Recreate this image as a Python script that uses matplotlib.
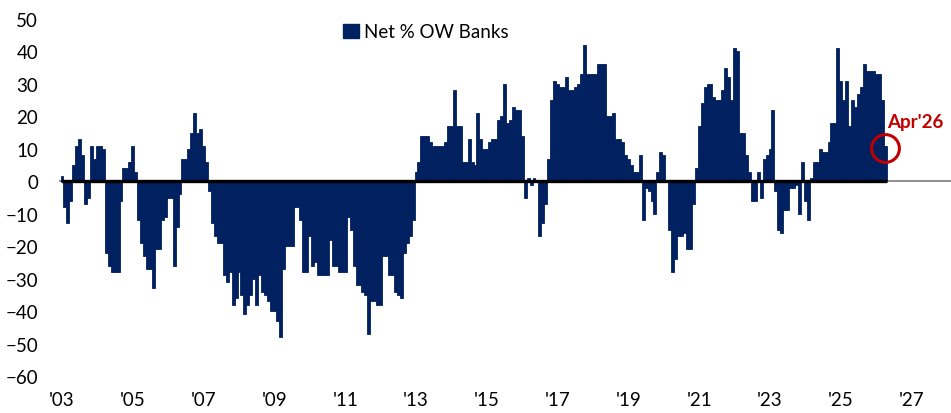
import numpy as np
import matplotlib
matplotlib.use('Agg')
import matplotlib.pyplot as plt
from matplotlib.patches import Patch

plt.rcParams['font.family'] = ['Lato', 'DejaVu Sans']

# monthly net % overweight banks, Jan 2003 .. Apr 2026
v2003 = [1.5, -8, -13, -6, 5, 11, 13, 8, -7, -5, 11, 7]
v2004 = [11, 11, 10, -22, -26, -28, -28, -28, -6, 4, 4, 6]
v2005 = [11, 3, -12, -19, -23, -27, -27, -33, -21, -21, -12, -11]
v2006 = [-5, -5, -26, -14, -4, 7, 7, 10, 15, 21, 15, 16]
v2007 = [11, 6, -3, -13, -17, -19, -19, -29, -31, -28, -38, -36]
v2008 = [-28, -35, -41, -38, -35, -30, -38, -29, -34, -35, -37, -40]
v2009 = [-40, -43, -48, -27, -20, -20, -20, -8, -8, -12, -28, -28]
v2010 = [-17, -26, -25, -29, -29, -29, -29, -18, -26, -26, -28, -28]
v2011 = [-28, -11, -15, -26, -32, -32, -34, -35, -47, -37, -37, -38]
v2012 = [-38, -23, -23, -29, -29, -34, -35, -36, -22, -19, -17, -12]
v2013 = [3, 6, 14, 14, 14, 12, 11, 11, 11, 11, 12, 17]
v2014 = [17, 28, 17, 17, 6, 6, 13, 6, 5, 21, 13, 10]
v2015 = [10, 12, 13, 13, 19, 20, 30, 18, 19, 23, 22, 22]
v2016 = [14, -5, 1, -1, 1, 0, -17, -13, -7, 7, 25, 31]
v2017 = [30, 29, 29, 32, 28, 28, 29, 30, 33, 42, 33, 33]
v2018 = [33, 33, 36, 36, 36, 20, 20, 21, 13, 13, 12, 8]
v2019 = [7, 5, 3, 3, 8, -12, -2, -3, -6, -10, 3, 9]
v2020 = [8, 0, -15, -28, -24, -17, -17, -16, -21, -21, -7, 4]
v2021 = [17, 24, 29, 30, 30, 26, 25, 25, 28, 35, 32, 25]
v2022 = [41, 40, 15, 15, 8, 3, -6, -6, 3, -5, 7, 8]
v2023 = [10, 22, -3, -15, -16, -9, -9, -2, -2, -1, -10, 6]
v2024 = [-6, -12, 1, 6, 6, 10, 9, 9, 12, 18, 18, 41]
v2025 = [31, 25, 31, 17, 25, 23, 27, 29, 36, 34, 34, 34]
v2026 = [33, 33, 25, 11]

values = np.array(v2003 + v2004 + v2005 + v2006 + v2007 + v2008 + v2009 + v2010
                  + v2011 + v2012 + v2013 + v2014 + v2015 + v2016 + v2017 + v2018
                  + v2019 + v2020 + v2021 + v2022 + v2023 + v2024 + v2025 + v2026)
x = 2003 + np.arange(len(values)) / 12

tick_years = list(range(2003, 2028, 2))
tick_labels = ["'%02d" % (y % 100) for y in tick_years]

navy = '#002060'
red = '#C00000'
fs = 13.5

fig = plt.figure(figsize=(9.51, 4.14), dpi=100)
ax = fig.add_axes([59 / 951, 1 - 377 / 414, 892 / 951, 357 / 414])

ax.bar(x, values, width=1 / 12, color=navy, edgecolor=navy, linewidth=0.6, zorder=2)
ax.axhline(0, color='#6f6f6f', lw=1.1, zorder=1)
ax.plot([x[0] - 1 / 24, x[-1] + 1 / 24], [0, 0], color='black', lw=2.4,
        solid_capstyle='butt', zorder=3)

ax.set_xlim(2003 - 3 / 35.4, 2003 + (951 - 62) / 35.4)
ax.set_ylim(-60, 50)
ax.set_yticks(range(-60, 51, 10))
ax.set_xticks(tick_years)
ax.set_xticklabels(tick_labels)
ax.tick_params(length=0, labelsize=fs, colors='black')
ax.tick_params(axis='y', pad=15)
ax.tick_params(axis='x', pad=11)
for s in ax.spines.values():
    s.set_visible(False)

# last reading highlighted
ax.plot(x[-1], 10.3, 'o', ms=20, mfc='none', mec=red, mew=2.2, zorder=4, clip_on=False)
ax.text(2026.32, 18.5, "Apr'26", color=red, fontweight='bold', fontsize=fs,
        ha='left', va='center')

fig.legend(handles=[Patch(facecolor=navy, edgecolor=navy)], labels=['Net % OW Banks'],
           loc='center', bbox_to_anchor=(426 / 951, 1 - 33 / 414), frameon=False,
           fontsize=fs, handlelength=0.85, handleheight=0.85, handletextpad=0.25)

fig.savefig('out.png', dpi=100)
